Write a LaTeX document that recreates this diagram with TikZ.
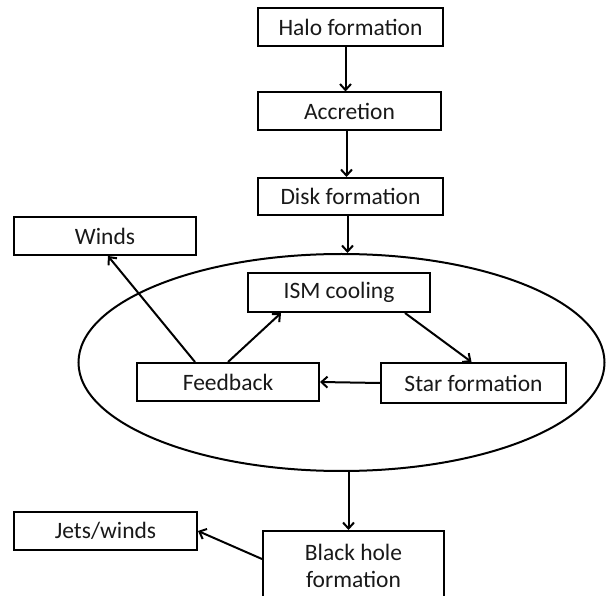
\documentclass[tikz,border=0pt]{standalone}
\usepackage{fontspec}
\setmainfont{Carlito}
\usetikzlibrary{arrows.meta,shapes.geometric}
\tikzset{
  box/.style={draw, line width=2pt, rectangle, inner sep=0pt, minimum width=183pt, minimum height=38pt, font=\fontsize{23.5}{27}\selectfont, text=black!90, align=center},
  arr/.style={line width=2pt, -{Straight Barb[length=6pt,width=11pt,line width=2pt]}},
}
\begin{document}
\begin{tikzpicture}[x=1pt,y=-1pt]
\clip (0,0) rectangle (606,596);
\fill[white] (0,0) rectangle (606,596);
\node[draw, ellipse, line width=2pt, inner sep=0pt, minimum width=526pt, minimum height=217pt] (galaxy) at (341.5,362.5) {};
\node[box, minimum width=185pt] (halo) at (350.5,27) {Halo formation};
\node[box] (acc) at (349.5,111.5) {Accretion};
\node[box, minimum width=185pt, minimum height=37pt] (disk) at (350.5,196.5) {Disk formation};
\node[box, minimum width=182pt] (winds) at (105,236) {Winds};
\node[box, minimum width=182pt, minimum height=39pt] (ism) at (339,292.5) {ISM cooling};
\node[box, minimum width=182pt] (fb) at (228,382) {Feedback};
\node[box, minimum width=185pt, minimum height=40pt] (star) at (473.5,383) {Star formation};
\node[box] (jets) at (105.5,531) {Jets/winds};
\node[box, minimum width=181pt, minimum height=70pt] (bh) at (353.5,566) {Black hole\\formation};
\draw[arr] ([xshift=-5pt]halo.south) -- ([xshift=-5pt]halo.south |- acc.north);
\draw[arr] ([xshift=-3pt]acc.south) -- ([xshift=-3pt]acc.south |- disk.north);
\draw[arr] ([xshift=-3pt]disk.south) -- ([xshift=-3pt]disk.south |- galaxy.north);
\draw[arr] ([xshift=-33pt]fb.north) -- ([xshift=3pt]winds.south);
\draw[arr] (fb.north) -- ([xshift=-58pt]ism.south);
\draw[arr] ([xshift=66pt]ism.south) -- ([xshift=-2pt]star.north);
\draw[arr] (star.west) -- (fb.east);
\draw[arr] ([xshift=-5pt]bh.north |- galaxy.south) -- ([xshift=-5pt]bh.north);
\draw[arr] ([yshift=7pt]bh.west) -- (jets.east);
\end{tikzpicture}
\end{document}
